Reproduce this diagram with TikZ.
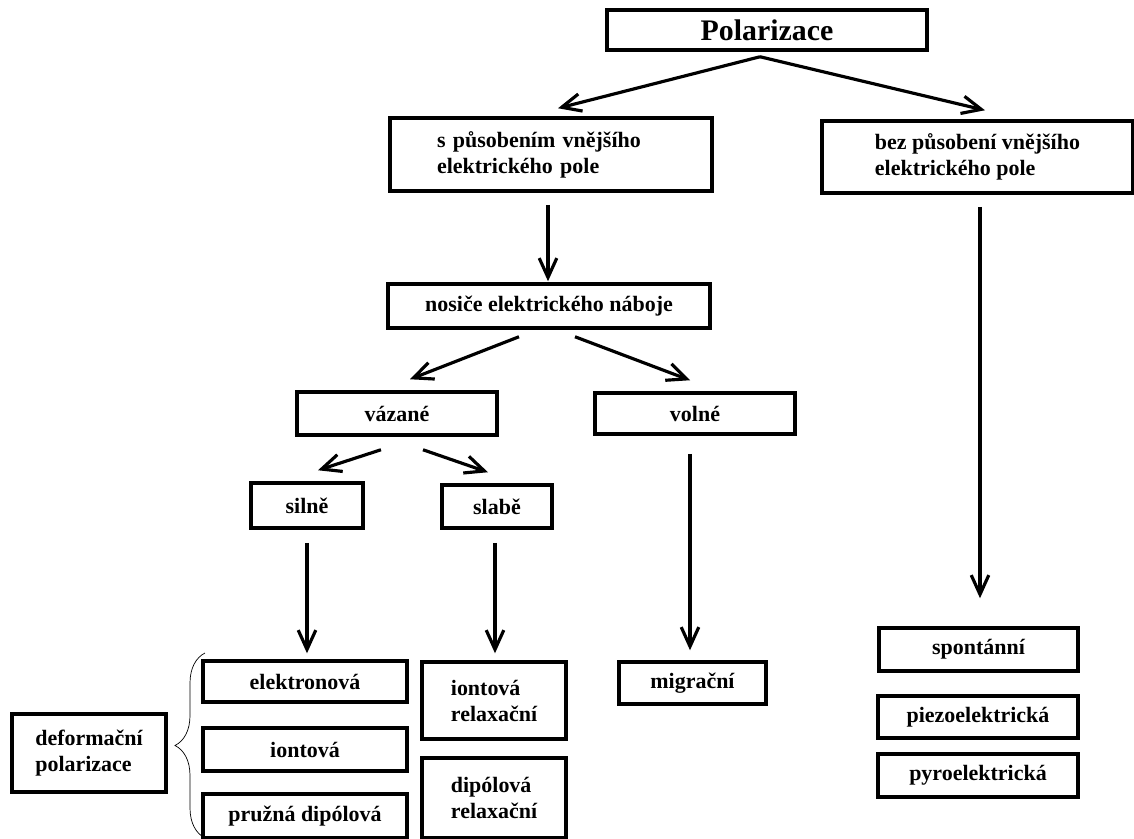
\documentclass[tikz,border=0pt]{standalone}
\usepackage{fontspec}
\setmainfont{Liberation Serif}
\usetikzlibrary{arrows.meta,decorations.pathreplacing}

\begin{document}
\begin{tikzpicture}[x=0.02cm, y=-0.02cm,
        box/.style={draw, line width=2pt, inner sep=0pt, align=center,
            font=\bfseries\fontsize{12.5}{14.8}\selectfont},
        lbox/.style={box, align=left},
        arr/.style={line width=1.8pt, -{Straight Barb[length=11pt, width=10pt, line width=1.8pt]}}]
        \useasboundingbox (0,0) rectangle (1134,839);

        \node[box, minimum width=6.4cm, minimum height=0.8cm, font=\bfseries\fontsize{17}{19}\selectfont] (pol) at (767,30) {Polarizace};
        \node[lbox, minimum width=6.44cm, minimum height=1.46cm, text width=4.56cm] (spus) at (551,154.5) {s působením vnějšího\\elektrického pole};
        \node[lbox, minimum width=6.22cm, minimum height=1.44cm] (bez) at (977.5,157) {bez působení vnějšího\\elektrického pole};
        \node[box, minimum width=6.44cm, minimum height=0.88cm] (nos) at (549,306) {nosiče elektrického náboje};
        \node[box, minimum width=4cm, minimum height=0.86cm] (vaz) at (397,413.5) {vázané};
        \node[box, minimum width=4cm, minimum height=0.82cm] (vol) at (695,413.5) {volné};
        \node[box, minimum width=2.24cm, minimum height=0.9cm] (sil) at (307,505.5) {silně};
        \node[box, minimum width=2.2cm, minimum height=0.86cm] (sla) at (497,506.5) {slabě};

        \node[box, minimum width=4.08cm, minimum height=0.82cm] (ele) at (305,681.5) {elektronová};
        \node[box, minimum width=4.08cm, minimum height=0.86cm] (ion) at (305,749.5) {iontová};
        \node[box, minimum width=4.08cm, minimum height=0.88cm] (pru) at (305,816) {pružná dipólová};
        \node[lbox, minimum width=3.08cm, minimum height=1.56cm] (def) at (89,753) {deformační\\polarizace};
        \node[lbox, minimum width=2.88cm, minimum height=1.54cm] (ionr) at (494,700.5) {iontová\\relaxační};
        \node[lbox, minimum width=2.88cm, minimum height=1.6cm] (dipr) at (494,798) {dipólová\\relaxační};
        \node[box, minimum width=2.94cm, minimum height=0.84cm] (mig) at (692.5,683) {migrační};
        \node[box, minimum width=3.98cm, minimum height=0.86cm] (spo) at (978.5,649.5) {spontánní};
        \node[box, minimum width=4cm, minimum height=0.84cm] (pie) at (978,717) {piezoelektrická};
        \node[box, minimum width=4cm, minimum height=0.86cm] (pyr) at (978,775.5) {pyroelektrická};

        \draw[arr] ([shift={(-7,5)}]pol.south) -- ([shift={(7,-8)}]spus.north);
        \draw[arr] ([shift={(-7,5)}]pol.south) -- ([shift={(7.5,-9)}]bez.north);
        \draw[arr] ([shift={(-3,12)}]spus.south) -- ([shift={(-1,-1)}]nos.north);
        \draw[arr] ([shift={(-30,7)}]nos.south) -- ([shift={(13,-11)}]vaz.north);
        \draw[arr] ([shift={(26,7)}]nos.south) -- ([shift={(-5,-11)}]vol.north);
        \draw[arr] ([shift={(-16,13)}]vaz.south) -- ([shift={(11,-11)}]sil.north);
        \draw[arr] ([shift={(26,13)}]vaz.south) -- ([shift={(-9,-11)}]sla.north);
        \draw[arr] ([shift={(0,13)}]sil.south) -- ([shift={(2,-6)}]ele.north);
        \draw[arr] ([shift={(-2,13)}]sla.south) -- ([shift={(1,-7)}]ionr.north);
        \draw[arr] ([shift={(-5,18)}]vol.south) -- ([shift={(-2.5,-10)}]mig.north);
        \draw[arr] ([shift={(2.5,12)}]bez.south) -- ([shift={(1.5,-28)}]spo.north);

        \coordinate (brbot) at (205,838);
        \coordinate (brtop) at (205,653);
        \draw[thin, decorate, decoration={brace, amplitude=0.6cm}] (brbot) -- (brtop);
    \end{tikzpicture}
\end{document}
